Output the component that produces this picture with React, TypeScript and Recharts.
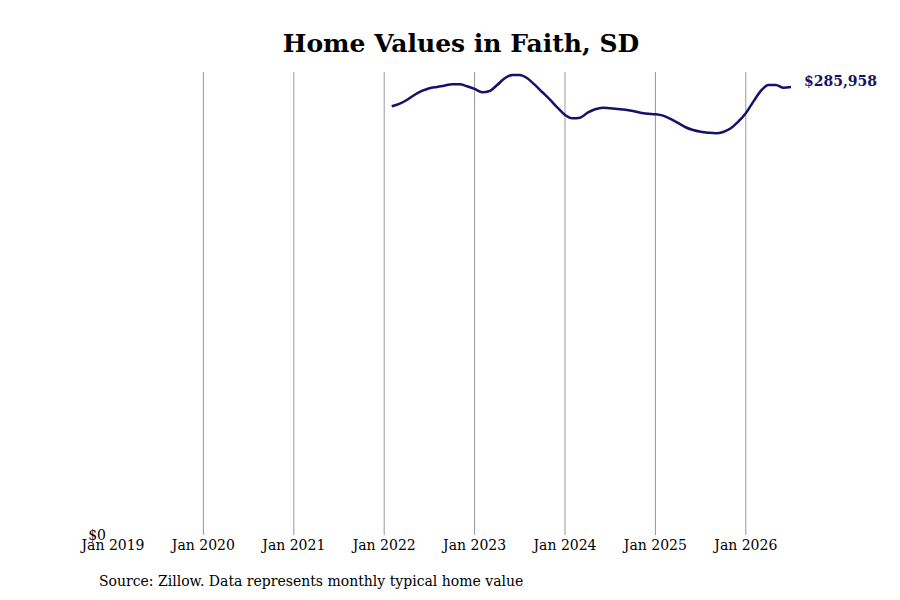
import React from 'react';
import { LineChart, Line, XAxis, YAxis, ReferenceLine } from 'recharts';

// months counted from Jan 2019
const startMonth = 37; // Feb 2022
const homeValues = [
  273640, 275107, 277661, 280852, 283405, 285128, 285958, 286788, 287681, 287681, 286405,
  284682, 282575, 283405, 287235, 291512, 293618, 293618, 291512, 287235, 282575, 277852, 272746,
  268086, 265980, 266363, 269554, 271724, 272746, 272363, 271916, 271469, 270639, 269554, 268916,
  268533, 267639, 265533, 262980, 260235, 258512, 257427, 256788, 256405, 257235, 259597, 263810,
  269171, 276576, 283405, 287235, 287235, 285511, 285958,
];
const yearTicks = [0, 12, 24, 36, 48, 60, 72, 84];
const yearLabels = ['Jan 2019', 'Jan 2020', 'Jan 2021', 'Jan 2022', 'Jan 2023', 'Jan 2024', 'Jan 2025', 'Jan 2026'];
const gridMonths = [12, 24, 36, 48, 60, 72, 84];

const data = homeValues.map((v, i) => ({ t: startMonth + i, value: v }));
const lastIndex = data.length - 1;

const font = '"DejaVu Serif", serif';
const navy = '#13136b';

const EndLabel = (props: any) => {
  const { x, y, index, value } = props;
  if (index !== lastIndex) return null;
  return (
    <text x={x + 13} y={y - 1} fill={navy} fontFamily={font} fontSize={14} fontWeight="bold">
      ${Number(value).toLocaleString('en-US')}
    </text>
  );
};

export default function App() {
  return (
    <div style={{ position: 'absolute', left: 0, top: 0, width: 900, height: 600, background: '#fff' }}>
      <div
        style={{
          position: 'absolute', left: 0, top: 29, width: 922, textAlign: 'center',
          fontFamily: font, fontWeight: 'bold', fontSize: 25, color: '#000',
        }}
      >
        Home Values in Faith, SD
      </div>
      <LineChart width={900} height={600} data={data} margin={{ top: 72, right: 109, left: 53, bottom: 35 }}>
        <XAxis
          dataKey="t"
          type="number"
          domain={[0, 90]}
          ticks={yearTicks}
          tickFormatter={(t: number) => yearLabels[yearTicks.indexOf(t)]}
          axisLine={false}
          tickLine={false}
          tickSize={0}
          tickMargin={5}
          height={30}
          interval={0}
          tick={{ fill: '#000', fontFamily: font, fontSize: 14 }}
        />
        <YAxis
          domain={[0, 295500]}
          ticks={[0]}
          tickFormatter={(v: number) => `$${v}`}
          axisLine={false}
          tickLine={false}
          tickSize={0}
          tickMargin={7}
          width={60}
          tick={{ fill: '#000', fontFamily: font, fontSize: 14 }}
        />
        {gridMonths.map((m) => (
          <ReferenceLine key={m} x={m} stroke="#999" strokeWidth={1} />
        ))}
        <Line
          type="monotone"
          dataKey="value"
          stroke={navy}
          strokeWidth={2.5}
          dot={false}
          label={<EndLabel />}
          isAnimationActive={false}
        />
      </LineChart>
      <div
        style={{
          position: 'absolute', left: 99, top: 573, fontFamily: font, fontSize: 14, color: '#000',
        }}
      >
        Source: Zillow. Data represents monthly typical home value
      </div>
    </div>
  );
}
